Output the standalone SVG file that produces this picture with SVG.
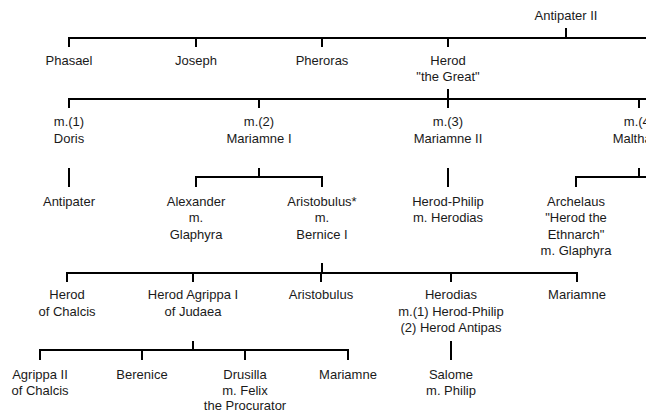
<svg xmlns="http://www.w3.org/2000/svg" width="646" height="412" viewBox="0 0 646 412">
<style>
  .c { fill: none; stroke: #000; stroke-width: 2; stroke-linejoin: miter; stroke-linecap: butt; }
  text { font-family: "Liberation Sans", Arial, sans-serif; font-size: 13px; fill: #1a1a1a; text-anchor: middle; }
</style>
<rect width="646" height="412" fill="#fff"/>
<g id="connectors">
  <path class="c" d="M566 28 V38"/>
  <path class="c" d="M69 47 V38 H646 M196 38 V47 M322 38 V47 M448 38 V47"/>
  <path class="c" d="M448 89 V108"/>
  <path class="c" d="M69 108 V99 H646 M259 99 V108 M639 99 V108"/>
  <path class="c" d="M69 168 V187"/>
  <path class="c" d="M259 168 V177"/>
  <path class="c" d="M196 187 V177 H322 V187"/>
  <path class="c" d="M448 168 V187"/>
  <path class="c" d="M639 168 V177"/>
  <path class="c" d="M576 187 V177 H646"/>
  <path class="c" d="M322 263 V273"/>
  <path class="c" d="M67 282 V273 H577 V282 M193 273 V282 M321 273 V282 M451 273 V282"/>
  <path class="c" d="M193 341 V350"/>
  <path class="c" d="M40 360 V350 H348 V360 M142 350 V360 M245 350 V360"/>
  <path class="c" d="M451 341 V360"/>
</g>
<g id="antipater-ii"><text x="566" y="19.5">Antipater II</text></g>
<g id="phasael"><text x="69" y="64.5">Phasael</text></g>
<g id="joseph"><text x="196" y="64.5">Joseph</text></g>
<g id="pheroras"><text x="322" y="64.5">Pheroras</text></g>
<g id="herod-the-great"><text x="448" y="64.5">Herod</text><text x="448" y="81">"the Great"</text></g>
<g id="doris"><text x="69" y="126">m.(1)</text><text x="69" y="142.5">Doris</text></g>
<g id="mariamne-i"><text x="259" y="126">m.(2)</text><text x="259" y="142.5">Mariamne I</text></g>
<g id="mariamne-ii"><text x="448" y="126">m.(3)</text><text x="448" y="142.5">Mariamne II</text></g>
<g id="malthace"><text x="639" y="126">m.(4)</text><text x="639" y="142.5">Malthace</text></g>
<g id="antipater"><text x="69" y="205.5">Antipater</text></g>
<g id="alexander"><text x="196" y="205.5">Alexander</text><text x="196" y="222">m.</text><text x="196" y="238.5">Glaphyra</text></g>
<g id="aristobulus-star"><text x="322" y="205.5">Aristobulus*</text><text x="322" y="222">m.</text><text x="322" y="238.5">Bernice I</text></g>
<g id="herod-philip"><text x="448" y="205.5">Herod-Philip</text><text x="448" y="222">m. Herodias</text></g>
<g id="archelaus"><text x="576" y="205.5">Archelaus</text><text x="576" y="222">"Herod the</text><text x="576" y="238.5">Ethnarch"</text><text x="576" y="255">m. Glaphyra</text></g>
<g id="herod-of-chalcis"><text x="67" y="299">Herod</text><text x="67" y="315.5">of Chalcis</text></g>
<g id="herod-agrippa-i"><text x="193" y="299">Herod Agrippa I</text><text x="193" y="315.5">of Judaea</text></g>
<g id="aristobulus"><text x="321" y="299">Aristobulus</text></g>
<g id="herodias"><text x="451" y="299">Herodias</text><text x="451" y="315.5">m.(1) Herod-Philip</text><text x="451" y="332">(2) Herod Antipas</text></g>
<g id="mariamne"><text x="577" y="299">Mariamne</text></g>
<g id="agrippa-ii"><text x="40" y="378.5">Agrippa II</text><text x="40" y="395">of Chalcis</text></g>
<g id="berenice"><text x="142" y="378.5">Berenice</text></g>
<g id="drusilla"><text x="245" y="378.5">Drusilla</text><text x="245" y="395">m. Felix</text><text x="245" y="409.5">the Procurator</text></g>
<g id="mariamne-2"><text x="348" y="378.5">Mariamne</text></g>
<g id="salome"><text x="451" y="378.5">Salome</text><text x="451" y="395">m. Philip</text></g>
</svg>
